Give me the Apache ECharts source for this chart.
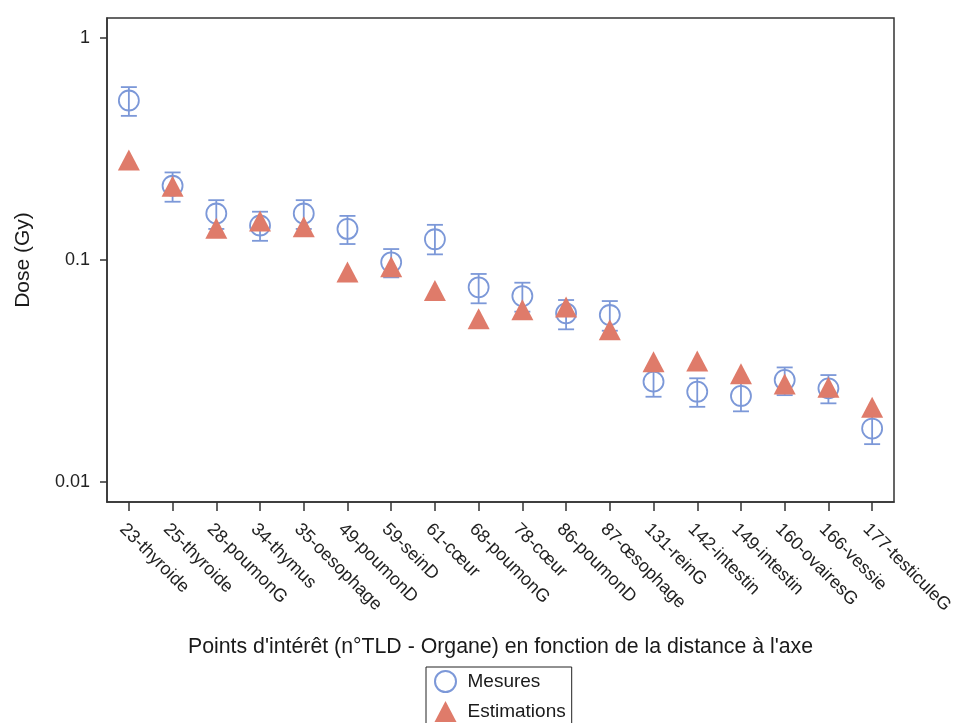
<!DOCTYPE html>
<html>
<head>
<meta charset="utf-8">
<script src="https://cdn.jsdelivr.net/npm/echarts@6/dist/echarts.min.js"></script>
<style>
html,body{margin:0;padding:0;background:#fff;}
#chart{width:957px;height:723px;}
</style>
</head>
<body>
<div id="chart"></div>
<script>
const categories = ['23-thyroide','25-thyroide','28-poumonG','34-thymus','35-oesophage','49-poumonD','59-seinD','61-cœur','68-poumonG','78-cœur','86-poumonD','87-œsophage','131-reinG','142-intestin','149-intestin','160-ovairesG','166-vessie','177-testiculeG'];
const mesures     = [0.523,0.216,0.162,0.143,0.162,0.138,0.0976,0.124,0.0753,0.0688,0.0575,0.0565,0.0283,0.0255,0.0244,0.0288,0.0264,0.0174];
const mesuresLow  = [0.446,0.183,0.138,0.122,0.138,0.118,0.0835,0.106,0.0638,0.0585,0.0487,0.0480,0.0242,0.0218,0.0208,0.0246,0.0226,0.0148];
const mesuresHigh = [0.601,0.248,0.186,0.165,0.186,0.158,0.112,0.144,0.0865,0.0790,0.0660,0.0653,0.0325,0.0293,0.0281,0.0328,0.0303,0.0200];
const estimations = [0.282,0.215,0.139,0.150,0.141,0.0883,0.0933,0.0729,0.0543,0.0596,0.0614,0.0485,0.0348,0.0351,0.0307,0.0276,0.0267,0.0217];
const yTicks = [0.01, 0.1, 1];

const BLUE = '#7C98D8';
const SALMON = '#DF7B6A';
const FONT = 'Liberation Sans, Arial, Helvetica, sans-serif';

const errData = categories.map((c, i) => [i, mesuresLow[i], mesuresHigh[i]]);

const chart = echarts.init(document.getElementById('chart'), null, {renderer: 'canvas'});
chart.setOption({
  animation: false,
  backgroundColor: '#fff',
  textStyle: {fontFamily: FONT},
  grid: {left: 107, right: 63, top: 18, bottom: 221, show: true, borderColor: '#333', borderWidth: 1.5, backgroundColor: 'transparent'},
  legend: {
    data: ['Mesures', 'Estimations'],
    orient: 'vertical',
    left: 426, top: 667,
    height: 120,
    padding: [3, 6, 6, 8],
    itemWidth: 22, itemHeight: 21, itemGap: 8,
    borderColor: '#222', borderWidth: 1,
    textStyle: {fontSize: 19, color: '#1a1a1a', fontFamily: FONT, padding: [0, 0, 0, 6]}
  },
  xAxis: {
    type: 'category',
    data: categories,
    boundaryGap: true,
    name: "Points d'intérêt (n°TLD - Organe) en fonction de la distance à l'axe",
    nameLocation: 'middle',
    nameGap: 135,
    nameTextStyle: {fontSize: 21.3, color: '#1a1a1a', fontFamily: FONT},
    axisLine: {show: true, lineStyle: {color: '#333', width: 1.5}},
    axisTick: {show: true, alignWithLabel: true, length: 9, lineStyle: {color: '#333', width: 1.5}},
    axisLabel: {rotate: -45, interval: 0, margin: 18, fontSize: 18, color: '#222', fontFamily: FONT, verticalAlign: 'top'},
    splitLine: {show: false}
  },
  yAxis: {
    type: 'log',
    logBase: 10,
    min: 0.00812,
    max: 1.231,
    name: 'Dose (Gy)',
    nameLocation: 'middle',
    nameGap: 73,
    nameTextStyle: {fontSize: 21, color: '#1a1a1a', fontFamily: FONT},
    axisLine: {show: true, lineStyle: {color: '#333', width: 1.5}},
    axisTick: {show: true, length: 7, customValues: yTicks, lineStyle: {color: '#333', width: 1.5}},
    axisLabel: {customValues: yTicks, margin: 17, fontSize: 18, color: '#222', fontFamily: FONT,
      formatter: v => String(+(+v).toPrecision(3))},
    splitLine: {show: false},
    minorTick: {show: false},
    minorSplitLine: {show: false}
  },
  series: [
    {
      name: 'errbars',
      type: 'custom',
      z: 2,
      data: errData,
      encode: {x: 0, y: [1, 2]},
      silent: true,
      renderItem: function (params, api) {
        const x = api.value(0);
        const lo = api.coord([x, api.value(1)]);
        const hi = api.coord([x, api.value(2)]);
        const cap = 8;
        const st = {stroke: BLUE, lineWidth: 1.8, fill: null};
        return {
          type: 'group',
          children: [
            {type: 'line', shape: {x1: lo[0], y1: lo[1], x2: hi[0], y2: hi[1]}, style: st},
            {type: 'line', shape: {x1: lo[0] - cap, y1: lo[1], x2: lo[0] + cap, y2: lo[1]}, style: st},
            {type: 'line', shape: {x1: hi[0] - cap, y1: hi[1], x2: hi[0] + cap, y2: hi[1]}, style: st}
          ]
        };
      }
    },
    {
      name: 'Mesures',
      type: 'scatter',
      z: 3,
      symbol: 'circle',
      symbolSize: 20,
      data: mesures,
      itemStyle: {color: 'rgba(255,255,255,0)', borderColor: BLUE, borderWidth: 1.8, opacity: 1}
    },
    {
      name: 'Estimations',
      type: 'scatter',
      z: 4,
      symbol: 'triangle',
      symbolSize: [22, 21],
      data: estimations,
      itemStyle: {color: SALMON, opacity: 1}
    }
  ]
});
</script>
</body>
</html>
